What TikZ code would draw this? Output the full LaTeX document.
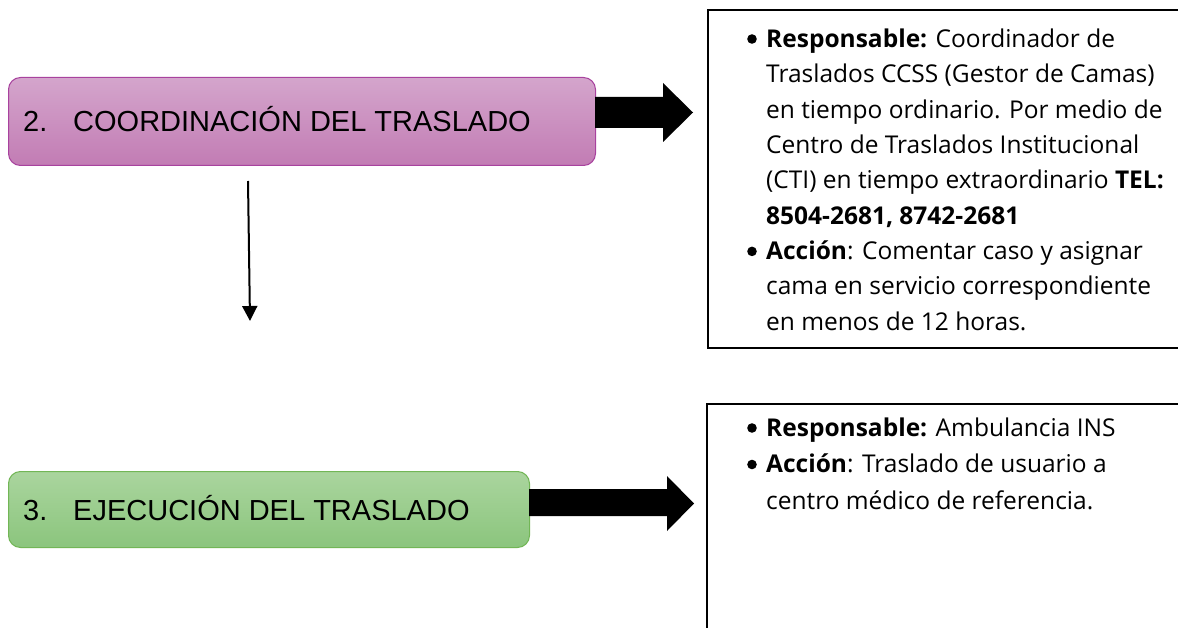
\documentclass[tikz,border=0pt]{standalone}
\usepackage{fontspec}
\setmainfont{Open Sans}
\newfontfamily\arialf{Liberation Sans}
\usetikzlibrary{arrows.meta}
\definecolor{purpTop}{HTML}{D4A5CC}
\definecolor{purpBot}{HTML}{C27CB4}
\definecolor{purpLine}{HTML}{A8429E}
\definecolor{grnTop}{HTML}{AAD59E}
\definecolor{grnBot}{HTML}{8BC57D}
\definecolor{grnLine}{HTML}{72B656}
\tikzset{
  stagebox/.style={rounded corners=12pt, line width=1pt, inner sep=0pt, anchor=north west},
  stagetext/.style={anchor=base west, inner sep=0pt, font=\arialf\fontsize{29}{34}\selectfont},
  infobox/.style={draw=black, line width=2pt, inner sep=0pt, anchor=north west},
  infotext/.style={anchor=north west, inner sep=0pt, align=left},
  bulletdot/.style={fill=black},
  blockarrow/.style={fill=black},
  thinarrow/.style={line width=2pt, -{Triangle[width=15pt,length=15pt]}}
}
\begin{document}
\begin{tikzpicture}[x=1pt,y=-1pt]
\useasboundingbox (0,0) rectangle (1178,628);
\clip (0,0) rectangle (1178,628);
\fill[white] (0,0) rectangle (1178,628);

% stage boxes
\node[stagebox, draw=purpLine, top color=purpTop, bottom color=purpBot,
      minimum width=587pt, minimum height=88pt] (c2) at (8,77) {};
\node[stagetext] (c2t) at (23,132) {\makebox[50pt][l]{2.}COORDINACIÓN DEL TRASLADO};

\node[stagebox, draw=grnLine, top color=grnTop, bottom color=grnBot,
      minimum width=521pt, minimum height=76pt] (c3) at (8,471) {};
\node[stagetext] (c3t) at (23,520) {\makebox[50pt][l]{3.}EJECUCIÓN DEL TRASLADO};

% info boxes
\node[infobox, minimum width=490pt, minimum height=338pt] (r1) at (707,9) {};
\node[infotext, font=\fontsize{24.5}{35.4}\selectfont] (r1t) at (766,25) {%
\rule{0pt}{22pt}\textbf{Responsable:} Coordinador de\\
Traslados CCSS (Gestor de Camas)\\
en tiempo ordinario. Por medio de\\
Centro de Traslados Institucional\\
(CTI) en tiempo extraordinario \textbf{TEL:}\\
\textbf{8504-2681, 8742-2681}\\
\textbf{Acción}: Comentar caso y asignar\\
cama en servicio correspondiente\\
en menos de 12 horas.};
\fill[bulletdot] (752,39) circle (4.8);
\fill[bulletdot] (752,251.4) circle (4.8);

\node[infobox, minimum width=490pt, minimum height=240pt] (r2) at (706,403) {};
\node[infotext, font=\fontsize{24.5}{36.5}\selectfont] (r2t) at (766,414) {%
\rule{0pt}{22pt}\textbf{Responsable:} Ambulancia INS\\
\textbf{Acción}: Traslado de usuario a\\
centro médico de referencia.};
\fill[bulletdot] (752,428) circle (4.8);
\fill[bulletdot] (752,464.5) circle (4.8);

% block arrows
\fill[blockarrow] (595,97) -- (663,97) -- (663,83) -- (693,112.5) -- (663,142) -- (663,128) -- (595,128) -- cycle;
\fill[blockarrow] (529,489) -- (667,489) -- (667,476) -- (694,503.5) -- (667,531) -- (667,516) -- (529,516) -- cycle;

% thin arrow
\coordinate (a1) at (248,181);
\coordinate (a2) at (250,321);
\draw[thinarrow] (a1) -- (a2);
\end{tikzpicture}
\end{document}
